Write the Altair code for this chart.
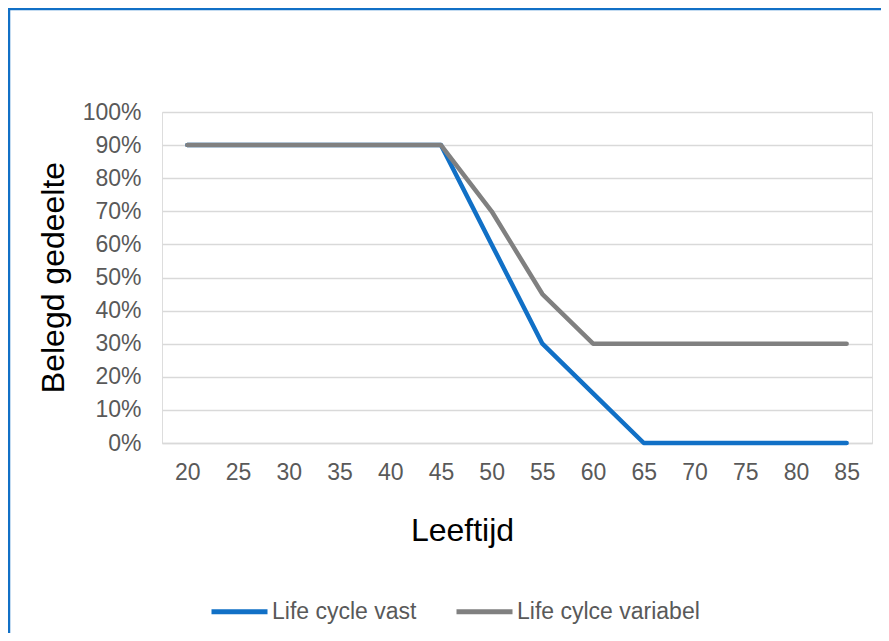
import altair as alt
import pandas as pd

ages = [20, 25, 30, 35, 40, 45, 50, 55, 60, 65, 70, 75, 80, 85]
vast = [0.90, 0.90, 0.90, 0.90, 0.90, 0.90, 0.60, 0.30, 0.15, 0.0, 0.0, 0.0, 0.0, 0.0]
variabel = [0.90, 0.90, 0.90, 0.90, 0.90, 0.90, 0.70, 0.45, 0.30, 0.30, 0.30, 0.30, 0.30, 0.30]
series_names = ["Life cycle vast", "Life cylce variabel"]
series_colors = ["#1170C6", "#808080"]
y_ticks = [0, 0.1, 0.2, 0.3, 0.4, 0.5, 0.6, 0.7, 0.8, 0.9, 1.0]

df_vast = pd.DataFrame({"Leeftijd": ages, "waarde": vast, "reeks": series_names[0]})
df_var = pd.DataFrame({"Leeftijd": ages, "waarde": variabel, "reeks": series_names[1]})

FONT = "Liberation Sans"

color = alt.Color(
    "reeks:N",
    scale=alt.Scale(domain=series_names, range=series_colors),
    legend=alt.Legend(
        title=None,
        orient="none",
        direction="horizontal",
        legendX=47,
        legendY=469,
        symbolType="stroke",
        symbolSize=3136,
        symbolStrokeWidth=5,
        labelFont=FONT,
        labelFontSize=23,
        labelColor="#595959",
        labelOffset=2,
        labelLimit=500,
        columnPadding=29,
        padding=0,
    ),
)

x = alt.X(
    "Leeftijd:O",
    sort=ages,
    axis=alt.Axis(
        title="Leeftijd",
        labelAngle=0,
        labelFont=FONT,
        labelFontSize=23,
        labelColor="#595959",
        labelPadding=18,
        ticks=False,
        domainColor="#D9D9D9",
        domainWidth=1.5,
        titleFont=FONT,
        titleFontSize=32,
        titleFontWeight="normal",
        titleColor="#000000",
        titleX=300,
        titleY=97,
        titleAlign="center",
        titleBaseline="alphabetic",
    ),
)

y = alt.Y(
    "waarde:Q",
    scale=alt.Scale(domain=[0, 1], nice=False),
    axis=alt.Axis(
        title="Belegd gedeelte",
        values=y_ticks,
        format=".0%",
        labelFont=FONT,
        labelFontSize=23,
        labelColor="#595959",
        labelPadding=21,
        ticks=False,
        domain=False,
        gridColor="#D9D9D9",
        gridWidth=1.5,
        titleFont=FONT,
        titleFontSize=32,
        titleFontWeight="normal",
        titleColor="#000000",
        titleX=-99,
        titleY=165,
        titleAngle=-90,
        titleAlign="center",
        titleBaseline="alphabetic",
    ),
)

line_vast = alt.Chart(df_vast).mark_line(strokeWidth=4.5, strokeJoin="round", strokeCap="round").encode(
    x=x, y=y, color=color
)
line_var = alt.Chart(df_var).mark_line(strokeWidth=4.5, strokeJoin="round", strokeCap="round").encode(
    x=x, y=y, color=color
)

frame = pd.DataFrame({"a": [0]})
border_top = alt.Chart(frame).mark_rule(stroke="#1170C6", strokeWidth=2.5).encode(
    x=alt.value(-154), x2=alt.value(725), y=alt.value(-103)
)
border_left = alt.Chart(frame).mark_rule(stroke="#1170C6", strokeWidth=2.5).encode(
    x=alt.value(-153), y=alt.value(-104), y2=alt.value(525)
)

chart = alt.layer(border_top, border_left, line_vast, line_var).properties(
    width=710,
    height=331,
    autosize=alt.AutoSizeParams(type="none"),
    padding={"left": 154, "top": 104, "right": 9, "bottom": 190},
).configure_view(stroke=None).configure(background="white")

chart.save("out.html", embed_options={"renderer": "svg", "actions": False})
